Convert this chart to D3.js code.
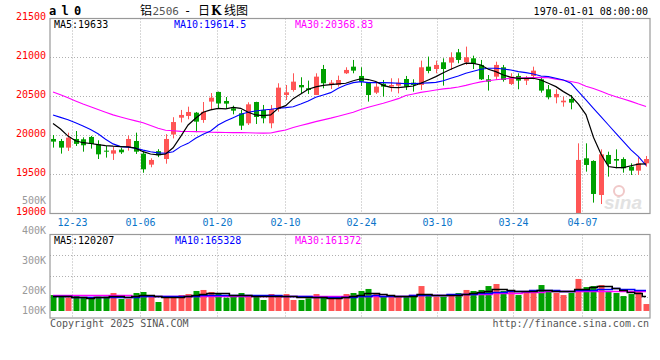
<!DOCTYPE html>
<html><head><meta charset="utf-8">
<script src="https://cdn.jsdelivr.net/npm/d3@7"></script>
<style>body{margin:0;background:#fff}svg{display:block}text{font-family:"DejaVu Sans Mono",monospace}</style>
</head><body><svg id="c" width="660" height="360"></svg>
<script>
const dates=["12-18","12-19","12-20","12-23","12-24","12-25","12-26","12-27","12-30","12-31",
"01-02","01-03","01-06","01-07","01-08","01-09","01-10","01-13","01-14","01-15",
"01-16","01-17","01-20","01-21","01-22","01-23","01-24","01-27","02-05","02-06",
"02-07","02-10","02-11","02-12","02-13","02-14","02-17","02-18","02-19","02-20",
"02-21","02-24","02-25","02-26","02-27","02-28","03-03","03-04","03-05","03-06",
"03-07","03-10","03-11","03-12","03-13","03-14","03-17","03-18","03-19","03-20",
"03-21","03-24","03-25","03-26","03-27","03-28","03-31","04-01","04-02","04-03",
"04-07","04-08","04-09","04-10","04-11","04-14","04-15","04-16","04-17","04-18"];
const opens=[19953,19927,19842,19953,19949,19979,19885,19803,19765,19816,19846,19927,19765,19624,19797,19696,20010,20226,20248,20290,20196,20432,20556,20440,20346,20282,20154,20427,20325,20154,20338,20517,20581,20645,20603,20517,20850,20645,20645,20795,20880,20761,20675,20547,20662,20624,20637,20722,20675,20645,20880,20850,20936,20932,21064,20936,20987,20902,20718,20752,20872,20658,20761,20701,20761,20718,20590,20487,20423,20466,18900,19705,19671,19235,19748,19696,19696,19598,19547,19641];
const highs=[20004,19953,20034,20055,19974,19992,19936,19863,19855,19842,19996,20034,19790,19705,19822,20015,20232,20325,20367,20299,20427,20542,20560,20491,20380,20325,20423,20430,20389,20389,20667,20645,20795,20744,20701,20795,20902,20709,20765,20872,20966,20872,20680,20675,20709,20731,20731,20761,20718,20957,21009,20957,20987,21064,21107,21137,21021,20966,20773,20944,20902,20795,20795,20761,20880,20752,20645,20590,20496,20517,19897,19897,19680,19820,19790,19820,19718,19641,19718,19735];
const lows=[19842,19765,19799,19863,19790,19829,19696,19714,19684,19761,19803,19761,19520,19590,19720,19636,19960,20165,20205,20040,20160,20325,20346,20346,20269,20068,20132,20145,20154,20090,20303,20453,20560,20538,20530,20517,20603,20594,20624,20786,20795,20632,20432,20530,20496,20560,20538,20581,20560,20581,20795,20795,20637,20838,20923,20902,20850,20709,20573,20709,20688,20645,20590,20645,20718,20547,20461,20410,20367,20333,18880,19534,19137,19119,19470,19577,19521,19491,19491,19598];
const closes=[19919,19842,19970,19890,19872,19889,19756,19790,19808,19782,19953,19790,19564,19684,19745,19953,20170,20261,20299,20175,20301,20483,20408,20406,20316,20124,20397,20235,20218,20338,20611,20551,20688,20615,20581,20752,20667,20675,20709,20838,20829,20688,20517,20624,20624,20645,20675,20624,20645,20872,20825,20902,20850,21000,20966,21000,20915,20718,20688,20902,20709,20752,20701,20726,20829,20573,20487,20530,20444,20419,19684,19620,19248,19756,19632,19675,19577,19547,19641,19696];
const ma5=[20150,20080,19990,19930,19905,19895,19880,19868,19860,19855,19852,19835,19790,19760,19748,19760,19840,19983,20132,20218,20295,20325,20346,20338,20359,20346,20295,20261,20252,20261,20346,20380,20470,20530,20590,20620,20640,20650,20660,20667,20700,20725,20715,20690,20640,20615,20610,20620,20632,20667,20709,20752,20803,20846,20889,20925,20923,20902,20846,20816,20773,20744,20731,20731,20731,20709,20667,20624,20560,20505,20400,20265,19975,19760,19600,19585,19585,19610,19630,19633];
const ma10=[20260,20230,20200,20160,20120,20075,20020,19950,19890,19855,19848,19835,19810,19790,19775,19770,19790,19855,19897,19961,20013,20055,20132,20184,20226,20269,20295,20312,20325,20333,20346,20355,20367,20402,20440,20487,20517,20547,20603,20645,20675,20688,20675,20675,20675,20672,20668,20662,20662,20667,20672,20679,20700,20731,20760,20795,20820,20846,20859,20859,20850,20838,20816,20803,20786,20761,20752,20731,20709,20667,20560,20453,20346,20239,20132,20026,19919,19812,19726,19615];
const ma30=[20555,20520,20480,20440,20400,20365,20330,20295,20262,20235,20210,20185,20160,20125,20090,20065,20058,20050,20048,20047,20045,20040,20038,20036,20034,20034,20032,20030,20028,20030,20050,20068,20100,20125,20150,20175,20198,20220,20245,20270,20295,20330,20360,20385,20410,20440,20470,20510,20530,20550,20565,20580,20595,20605,20620,20640,20665,20685,20700,20712,20722,20731,20735,20738,20740,20742,20738,20720,20705,20690,20670,20630,20600,20565,20525,20495,20465,20435,20400,20369];
const volumes=[126000,126000,108000,118000,108000,100000,113000,113000,142000,95000,95000,142000,150000,113000,71000,118000,113000,126000,134000,158000,166000,150000,134000,105000,113000,142000,118000,113000,87000,134000,118000,134000,87000,87000,100000,134000,105000,95000,95000,134000,142000,158000,174000,134000,113000,126000,118000,113000,113000,197000,118000,113000,113000,134000,142000,166000,158000,166000,197000,213000,158000,150000,126000,158000,166000,205000,158000,142000,126000,142000,253000,189000,197000,205000,150000,142000,118000,134000,153000,55000];
const vma5=[118000,118000,118000,112000,110000,105000,108000,110000,118000,115000,112000,118000,124000,124000,115000,112000,110000,110000,118000,130000,138000,142000,142000,140000,130000,128000,125000,120000,115000,118000,120000,118000,115000,112000,108000,110000,108000,105000,104000,110000,118000,128000,140000,142000,135000,128000,122000,118000,120000,135000,132000,130000,130000,130000,125000,135000,145000,150000,160000,172000,175000,168000,160000,155000,158000,165000,165000,160000,155000,160000,170000,175000,190000,200000,195000,180000,165000,150000,145000,120207];
const vma10=[115000,115000,115000,114000,113000,112000,112000,112000,113000,113000,112000,113000,115000,116000,116000,116000,115000,115000,118000,120000,124000,128000,130000,130000,130000,130000,130000,128000,128000,128000,125000,122000,120000,118000,115000,114000,113000,112000,112000,113000,114000,116000,120000,124000,122000,120000,120000,122000,125000,128000,128000,128000,130000,132000,132000,134000,138000,140000,145000,150000,152000,155000,158000,160000,162000,165000,165000,162000,160000,160000,162000,164000,168000,172000,175000,178000,175000,172000,168000,165328];
const vma30=[128000,128000,128000,127000,126000,125000,124000,124000,124000,124000,123000,122000,122000,121000,120000,120000,120000,120000,120000,120000,120000,120000,120000,120000,120000,121000,121000,121000,121000,121000,120000,120000,120000,120000,120000,120000,119000,118000,118000,118000,119000,120000,121000,122000,122000,122000,122000,122000,123000,124000,125000,126000,127000,128000,130000,132000,134000,136000,138000,140000,142000,144000,146000,148000,150000,152000,154000,155000,156000,157000,158000,158000,159000,160000,160000,160000,161000,161000,161000,161372];
const priceTicks=[21500,21000,20500,20000,19500,19000];
const volTicks=[500000,400000,300000,200000,100000];
const volTickLabels=["500K","400K","300K","200K","100K"];
const dateTicks=["12-23","01-06","01-20","02-10","02-24","03-10","03-24","04-07"];

const svg=d3.select("#c");
const RED="#ff5555",GREEN="#00a000",GRID="#b0b0b0",BORDER="#999";
const xBand=d3.scaleBand().domain(dates).range([49.25,649.75]);
const bw=xBand.bandwidth();
const cx=d=>xBand(d)+bw/2;
const xGrid=d3.scalePoint().domain(dates).range([49.2,650.2]);
const yP=d3.scaleLinear().domain([19000,21500]).range([213.3,18.3]);
const yV=d3.scaleLinear().domain([0,600000]).range([311,235]);
const yVLab=d3.scaleLinear().domain([200000,500000]).range([290.7,200.7]);

const P={x:50,y:18.5,w:600,h:195};
const V={x:50,y:234.5,w:600,h:83.5};

// header
svg.append("text").attr("x",49).attr("y",15).attr("font-weight","bold").attr("font-size",12).attr("letter-spacing",-1).text("a l 0");
const cjk="'Noto Sans CJK SC',sans-serif";
const hdr=(x,txt,opt={})=>{const e=svg.append("text").attr("x",x).attr("y",15).attr("font-size",opt.fs||12).attr("fill",opt.fill||"#000")
  .style("font-family",opt.ff||cjk).text(txt); if(opt.bold)e.attr("font-weight","bold"); return e;};
hdr(140,"铝");
hdr(152.5,"2506",{fill:"#555",fs:11,ff:"'DejaVu Sans Mono',monospace"});
hdr(184,"-",{ff:"'DejaVu Sans Mono',monospace"});
hdr(198,"日");
hdr(211,"K",{bold:true,ff:"'DejaVu Serif',serif"});
hdr(224,"线图");
svg.append("text").attr("x",648).attr("y",15).attr("text-anchor","end").attr("font-size",10).text("1970-01-01 08:00:00");

// clip
svg.append("clipPath").attr("id","pc").append("rect").attr("x",P.x).attr("y",P.y).attr("width",P.w).attr("height",P.h);

// grids
const g=svg.append("g");
g.selectAll("line.hp").data(priceTicks.slice(1,5)).join("line")
 .attr("x1",P.x).attr("x2",P.x+P.w).attr("y1",d=>Math.round(yP(d))+0.5).attr("y2",d=>Math.round(yP(d))+0.5)
 .attr("stroke",GRID).attr("stroke-dasharray","1,2");
[1,2,3].forEach(k=>{const y=Math.round(V.y+V.h*k/4)+0.5;
 g.append("line").attr("x1",V.x).attr("x2",V.x+V.w).attr("y1",y).attr("y2",y).attr("stroke",GRID).attr("stroke-dasharray","1,2");});
dateTicks.forEach(d=>{const x=Math.round(xGrid(d))+0.5;
 g.append("line").attr("x1",x).attr("x2",x).attr("y1",P.y).attr("y2",P.y+P.h).attr("stroke",GRID).attr("stroke-dasharray","1,2");
 g.append("line").attr("x1",x).attr("x2",x).attr("y1",V.y).attr("y2",V.y+V.h).attr("stroke",GRID).attr("stroke-dasharray","1,2");
 svg.append("text").attr("x",x).attr("y",225.5).attr("text-anchor","middle").attr("font-size",10).attr("fill","#0a74c9").text(d);
});

// watermark
svg.append("text").attr("x",604).attr("y",209).attr("font-size",19).attr("font-style","italic").attr("font-weight","bold")
 .style("font-family","'Liberation Sans',sans-serif").attr("fill","#e2e2e2").text("sina");
svg.append("circle").attr("cx",619).attr("cy",191).attr("r",5).attr("fill","none").attr("stroke","#f0c8c8").attr("stroke-width",2);

// candles
const cg=svg.append("g").attr("clip-path","url(#pc)");
dates.forEach((d,i)=>{
 const o=opens[i],c=closes[i],col=c>=o?RED:GREEN,x=Math.round(cx(d));
 cg.append("line").attr("x1",x+0.5).attr("x2",x+0.5).attr("y1",yP(highs[i])).attr("y2",yP(lows[i])).attr("stroke",col);
 const y1=yP(Math.max(o,c)),y2=yP(Math.min(o,c));
 cg.append("rect").attr("x",x-2).attr("width",5).attr("y",y1).attr("height",Math.max(1,y2-y1)).attr("fill",col);
});
const line=arr=>d3.line().x((d,i)=>cx(dates[i])).y(d=>yP(d))(arr);
cg.append("path").attr("d",line(ma30)).attr("fill","none").attr("stroke","#ff00ff").attr("stroke-width",1.1);
cg.append("path").attr("d",line(ma10)).attr("fill","none").attr("stroke","#0000ff").attr("stroke-width",1.1);
cg.append("path").attr("d",line(ma5)).attr("fill","none").attr("stroke","#000").attr("stroke-width",1.2);

// volume
const vg=svg.append("g");
dates.forEach((d,i)=>{
 const col=closes[i]>=opens[i]?RED:GREEN,x=Math.round(cx(d));
 vg.append("rect").attr("x",x-2.5).attr("width",6).attr("y",yV(volumes[i])).attr("height",yV(0)-yV(volumes[i])).attr("fill",col);
});
const vline=arr=>d3.line().curve(d3.curveStep).x((d,i)=>cx(dates[i])).y(d=>Math.round(yV(d))+0.5)(arr);
vg.append("path").attr("d",vline(vma30)).attr("fill","none").attr("stroke","#ff00ff").attr("stroke-width",1.5);
vg.append("path").attr("d",vline(vma10)).attr("fill","none").attr("stroke","#0000ff").attr("stroke-width",1.5);
vg.append("path").attr("d",vline(vma5)).attr("fill","none").attr("stroke","#000").attr("stroke-width",1.5);

// borders
svg.append("rect").attr("x",P.x).attr("y",P.y).attr("width",P.w).attr("height",P.h).attr("fill","none").attr("stroke",BORDER).attr("stroke-width",1.2);
svg.append("rect").attr("x",V.x).attr("y",V.y).attr("width",V.w).attr("height",V.h).attr("fill","none").attr("stroke",BORDER).attr("stroke-width",1.2);

// axis labels
svg.selectAll("text.pl").data(priceTicks).join("text").attr("class","pl")
 .attr("x",46).attr("y",d=>yP(d)+1.5).attr("text-anchor","end").attr("font-size",10).attr("fill","#ff0000").text(d=>d);
svg.selectAll("text.vl").data(volTicks).join("text").attr("class","vl")
 .attr("x",46).attr("y",d=>Math.min(yVLab(d),310)+3.5).attr("text-anchor","end").attr("font-size",10).attr("fill","#999")
 .text((d,i)=>volTickLabels[i]);

// MA legends
const leg=(x,y,col,txt)=>svg.append("text").attr("x",x).attr("y",y).attr("font-size",10).attr("fill",col).text(txt);
leg(54,27.5,"#000","MA5:"+ma5[ma5.length-1]);
leg(174,27.5,"#0000ff","MA10:19614.5");
leg(295,27.5,"#ff00ff","MA30:20368.83");
leg(54,244,"#000","MA5:"+vma5[vma5.length-1]);
leg(175,244,"#0000ff","MA10:"+vma10[vma10.length-1]);
leg(295,244,"#ff00ff","MA30:"+vma30[vma30.length-1]);

// footer
svg.append("text").attr("x",50).attr("y",327).attr("font-size",10).attr("fill","#555").text("Copyright 2025 SINA.COM");
svg.append("text").attr("x",649).attr("y",327).attr("text-anchor","end").attr("font-size",10).attr("fill","#555").text("http://finance.sina.com.cn");
</script></body></html>
